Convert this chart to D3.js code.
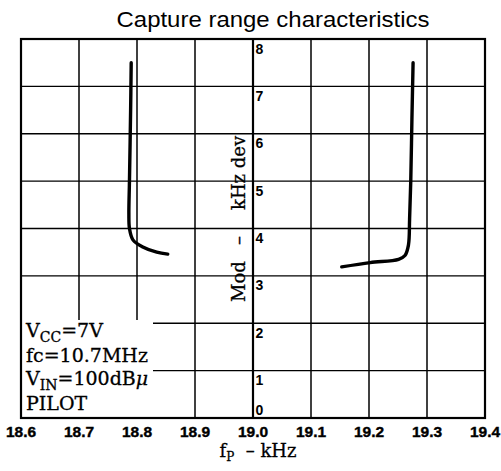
<!DOCTYPE html>
<html>
<head>
<meta charset="utf-8">
<script src="https://cdn.jsdelivr.net/npm/d3@7"></script>
<style>
  html, body { margin: 0; padding: 0; background: #fff; }
  svg { display: block; }
</style>
</head>
<body>
<div id="chart"></div>
<script>
// Pilot frequency (kHz) and modulation deviation (kHz) for each capture-range boundary
const lowerEdgeFreq = [18.790, 18.789, 18.787, 18.786, 18.787, 18.793, 18.810, 18.834, 18.853];
const lowerEdgeDev  = [7.5, 6.5, 5.0, 4.3, 4.0, 3.76, 3.61, 3.50, 3.46];
const upperEdgeFreq = [19.153, 19.202, 19.251, 19.262, 19.268, 19.270, 19.272, 19.274, 19.276];
const upperEdgeDev  = [3.19, 3.28, 3.35, 3.43, 3.65, 4.2, 5.0, 6.3, 7.5];

const xTicks = [18.6, 18.7, 18.8, 18.9, 19.0, 19.1, 19.2, 19.3, 19.4];
const xTickLabels = ["18.6", "18.7", "18.8", "18.9", "19.0", "19.1", "19.2", "19.3", "19.4"];
const yTicks = [0, 1, 2, 3, 4, 5, 6, 7, 8];

const W = 501, H = 471;
const plot = { left: 21, right: 485, top: 39, bottom: 418 };

const svg = d3.select("#chart").append("svg")
  .attr("width", W).attr("height", H);

svg.append("rect").attr("width", W).attr("height", H).attr("fill", "#fff");

const x = d3.scaleLinear().domain([18.6, 19.4]).range([plot.left, plot.right]);
const y = d3.scaleLinear().domain([0, 8]).range([plot.bottom, plot.top]);

// Title
svg.append("text")
  .attr("x", 273).attr("y", 27)
  .attr("text-anchor", "middle")
  .attr("font-family", "'Liberation Sans', Arial, sans-serif")
  .attr("font-size", 22)
  .attr("textLength", 313)
  .attr("lengthAdjust", "spacingAndGlyphs")
  .attr("fill", "#000")
  .text("Capture range characteristics");

// Grid
const grid = svg.append("g").attr("stroke", "#000").attr("fill", "none");
grid.selectAll("line.v").data(xTicks.slice(1, -1)).join("line")
  .attr("class", "v")
  .attr("x1", d => x(d)).attr("x2", d => x(d))
  .attr("y1", plot.top).attr("y2", plot.bottom)
  .attr("stroke-width", d => d === 19.0 ? 2.2 : 1.5);
grid.selectAll("line.h").data(yTicks.slice(1, -1)).join("line")
  .attr("class", "h")
  .attr("x1", plot.left).attr("x2", plot.right)
  .attr("y1", d => y(d)).attr("y2", d => y(d))
  .attr("stroke-width", 1.4);

// Condition box sits over the lower-left grid cells
const boxRight = 153, boxTop = 320;
svg.append("rect")
  .attr("x", plot.left).attr("y", boxTop)
  .attr("width", boxRight - plot.left).attr("height", plot.bottom - boxTop)
  .attr("fill", "#fff");

// Frame
svg.append("rect")
  .attr("x", plot.left).attr("y", plot.top)
  .attr("width", plot.right - plot.left).attr("height", plot.bottom - plot.top)
  .attr("fill", "none").attr("stroke", "#000").attr("stroke-width", 2.2);

// X tick labels
svg.append("g").selectAll("text").data(xTicks).join("text")
  .attr("x", d => x(d)).attr("y", 437)
  .attr("text-anchor", "middle")
  .attr("font-family", "'Liberation Sans', Arial, sans-serif")
  .attr("font-weight", "bold")
  .attr("font-size", 15.5)
  .attr("fill", "#000")
  .attr("stroke", "#000").attr("stroke-width", 0.4)
  .text((d, i) => xTickLabels[i]);

// Y tick labels along the 19.0 line
svg.append("g").selectAll("text").data(yTicks).join("text")
  .attr("x", x(19.0) + 2.5)
  .attr("y", d => d === 0 ? y(d) - 3 : y(d) + 14.5)
  .attr("font-family", "'Liberation Sans', Arial, sans-serif")
  .attr("font-weight", "bold")
  .attr("font-size", 14)
  .attr("fill", "#000")
  .text(d => d);

// X axis title
const xt = svg.append("text")
  .attr("x", 258).attr("y", 457)
  .attr("text-anchor", "middle")
  .attr("font-family", "'DejaVu Serif', serif")
  .attr("font-size", 18)
  .attr("fill", "#000")
  .attr("stroke", "#000").attr("stroke-width", 0.3);
xt.append("tspan").text("f");
xt.append("tspan").attr("font-size", 12).attr("dy", 4).text("P");
xt.append("tspan").attr("dy", -4).text("\u00a0\u00a0\u2013\u00a0kHz");

// Y axis title (rotated)
const yTitle = svg.append("g")
  .attr("transform", "translate(245,302) rotate(-90)")
  .attr("font-family", "'DejaVu Serif', serif")
  .attr("font-size", 18)
  .attr("fill", "#000")
  .attr("stroke", "#000").attr("stroke-width", 0.3);
yTitle.append("text").attr("x", 0).attr("y", 0).text("Mod");
yTitle.append("text").attr("x", 57).attr("y", 0).text("\u2013");
yTitle.append("text").attr("x", 92).attr("y", 0).text("kHz dev");

// Condition text
const cond = svg.append("g")
  .attr("font-family", "'DejaVu Serif', serif")
  .attr("font-size", 19)
  .attr("fill", "#000")
  .attr("stroke", "#000").attr("stroke-width", 0.3);
const l1 = cond.append("text").attr("x", 26).attr("y", 337);
l1.append("tspan").text("V");
l1.append("tspan").attr("font-size", 14).attr("dy", 5).text("CC");
l1.append("tspan").attr("dy", -5).text("=7V");
cond.append("text").attr("x", 26).attr("y", 362).text("fc=10.7MHz");
const l3 = cond.append("text").attr("x", 26).attr("y", 385);
l3.append("tspan").text("V");
l3.append("tspan").attr("font-size", 14).attr("dy", 5).text("IN");
l3.append("tspan").attr("dy", -5).text("=100dB");
l3.append("tspan").attr("font-style", "italic").text("\u03bc");
cond.append("text").attr("x", 26).attr("y", 410).text("PILOT");

// Capture range curves
const line = d3.line()
  .x(d => x(d[0]))
  .y(d => y(d[1]))
  .curve(d3.curveCatmullRom.alpha(0.5));

const curves = [
  d3.zip(lowerEdgeFreq, lowerEdgeDev),
  d3.zip(upperEdgeFreq, upperEdgeDev)
];
svg.append("g").selectAll("path").data(curves).join("path")
  .attr("d", line)
  .attr("fill", "none")
  .attr("stroke", "#000")
  .attr("stroke-width", 3.4)
  .attr("stroke-linecap", "round")
  .attr("stroke-linejoin", "round");
</script>
</body>
</html>
